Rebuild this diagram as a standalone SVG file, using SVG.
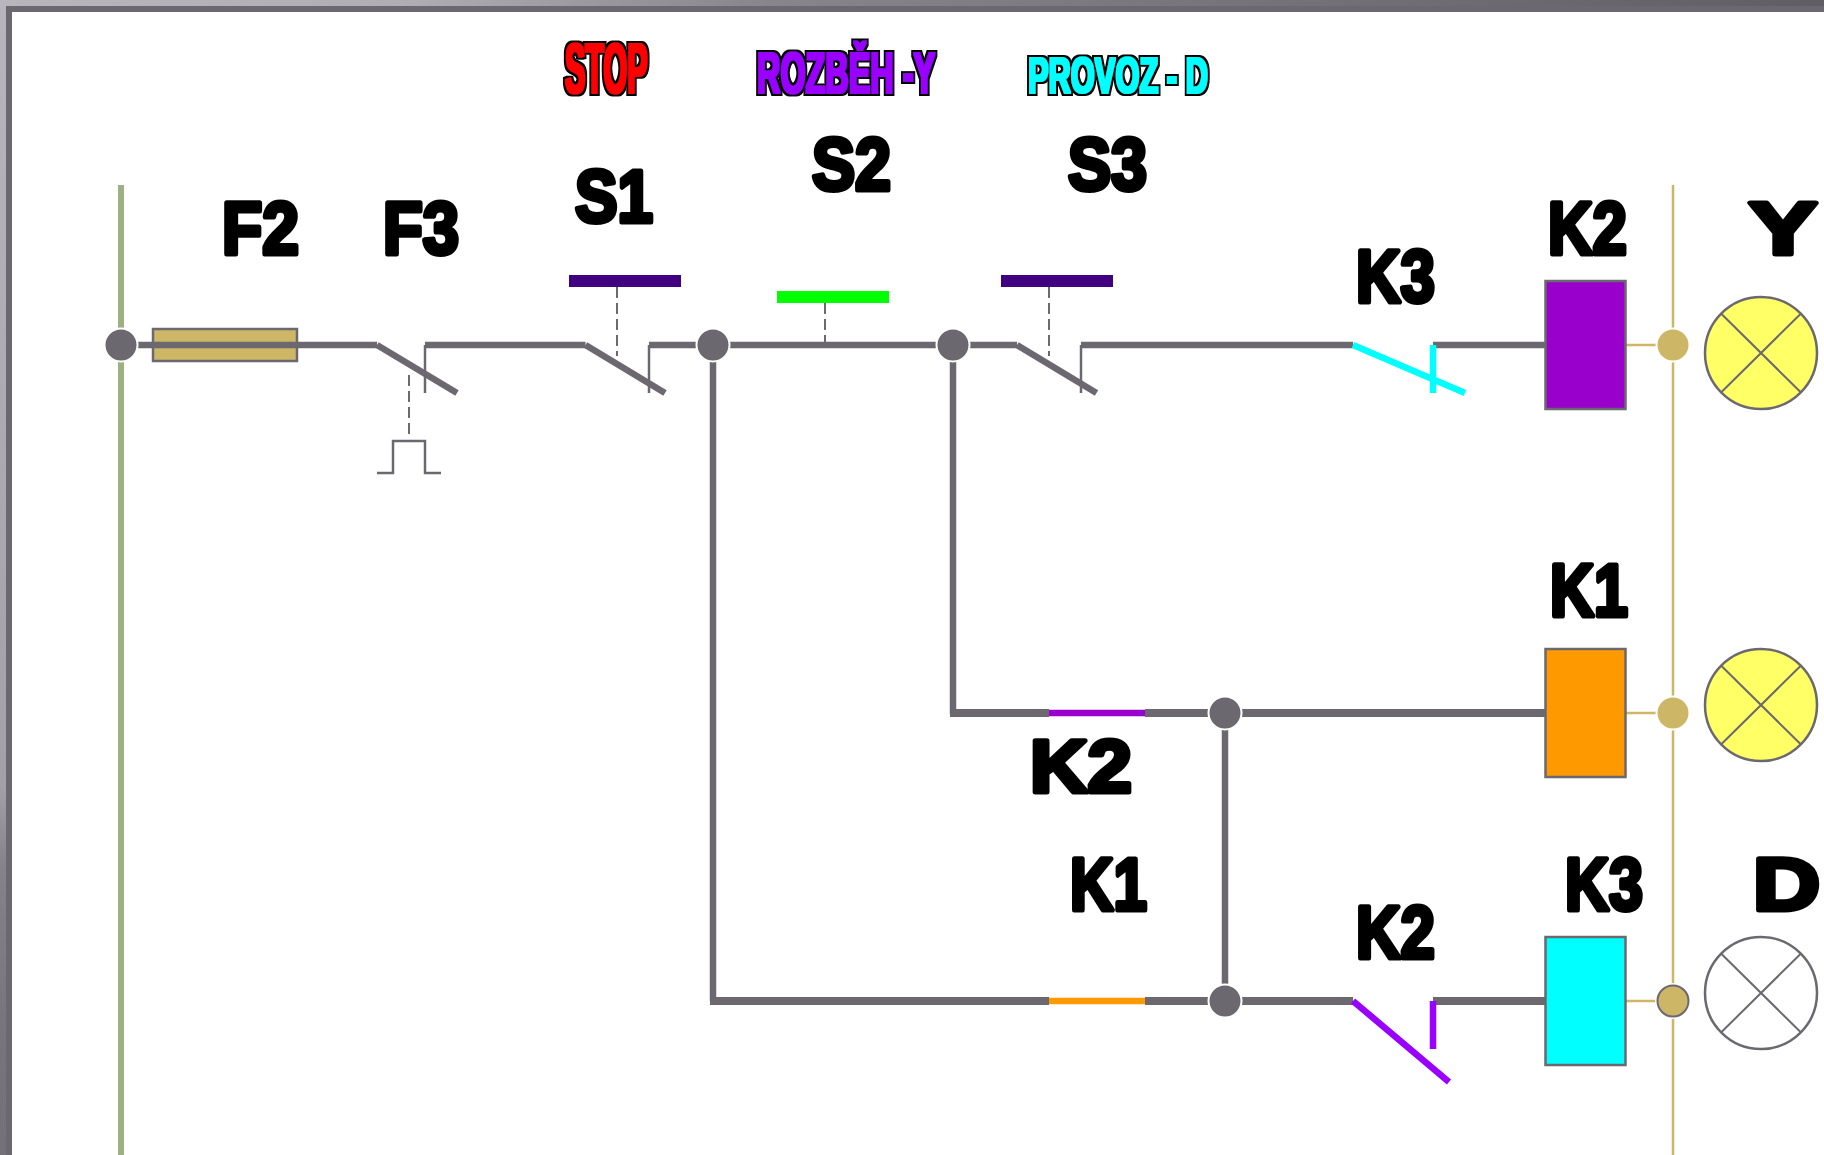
<svg xmlns="http://www.w3.org/2000/svg" width="1824" height="1155" viewBox="0 0 1824 1155">
<defs>
<linearGradient id="frameTop" x1="0" y1="0" x2="1" y2="0"><stop offset="0" stop-color="#b8b5bd"/><stop offset="0.22" stop-color="#b0adb5"/><stop offset="0.42" stop-color="#88868c"/><stop offset="1" stop-color="#605e64"/></linearGradient>
<linearGradient id="frameLeft" x1="0" y1="0" x2="0" y2="1"><stop offset="0" stop-color="#b8b5bd"/><stop offset="0.68" stop-color="#a3a1a8"/><stop offset="0.75" stop-color="#858389"/><stop offset="0.88" stop-color="#78767c"/><stop offset="1" stop-color="#737177"/></linearGradient>
<filter id="fat" x="-5%" y="-20%" width="110%" height="140%">
<feMorphology in="SourceAlpha" operator="dilate" radius="2.6" result="outline"/>
<feMorphology in="SourceGraphic" operator="dilate" radius="0.8" result="body"/>
<feMerge><feMergeNode in="outline"/><feMergeNode in="body"/></feMerge>
</filter>
</defs>
<style>
.wire{stroke:#6b6870;stroke-width:6.5;fill:none}
.wire2{stroke:#6b6870;stroke-width:8;fill:none}
.thin{stroke:#6b6870;stroke-width:2.5;fill:none}
.dash{stroke:#6b6870;stroke-width:2;stroke-dasharray:11 5;fill:none}
.tan{stroke:#cdb766;stroke-width:2.5;fill:none}
.dot{fill:#6b6870;stroke:#fff;stroke-width:2}
.tdot{fill:#cdb766;stroke:#fff;stroke-width:2}
.box{stroke:#6b6870;stroke-width:2.5}
.lamp{stroke:#6b6870;stroke-width:2.5}
.x{stroke:#6b6870;stroke-width:2}
.lbl{font-family:"Liberation Sans",Arial,sans-serif;font-weight:bold;font-size:74px;fill:#000;stroke:#000;stroke-width:5;stroke-linejoin:round}
.ttl{font-family:"Liberation Sans",Arial,sans-serif;font-weight:bold}
</style>
<rect width="1824" height="1155" fill="#fff"/>
<g id="frame">
<rect x="0" y="0" width="1824" height="6" fill="url(#frameTop)"/>
<rect x="0" y="0" width="6" height="1155" fill="url(#frameLeft)"/>
<rect x="6" y="6" width="1818" height="6" fill="#6b6870"/>
<rect x="6" y="6" width="6" height="1149" fill="#6b6870"/>
</g>
<g id="F2-fuse"><rect x="153" y="329" width="144" height="32" fill="#cdb766" class="box"/></g>
<g id="connectors">
<line x1="121" y1="185" x2="121" y2="1155" stroke="#9db082" stroke-width="6"/>
<line x1="1673" y1="185" x2="1673" y2="1155" class="tan"/>
<path class="wire" d="M121 345H377M425 345H585.500M649 345H1017M1081 345H1353M1433 345H1546"/>
<path class="wire" d="M713 345V1001M953 345V714M1225 713V1001"/>
<path class="wire2" d="M950 713H1049M1145 713H1546M710 1001H1049M1145 1001H1353M1433 1001H1546"/>
<path d="M1049 713H1145" fill="none" stroke="#9900cc" stroke-width="6.500"/>
<path d="M1049 1001H1145" fill="none" stroke="#ff9900" stroke-width="6.500"/>
<path class="tan" d="M1626 345H1673M1626 713H1673M1626 1001H1673"/>
</g>
<g id="F3-contact">
<path class="wire" d="M377 345L457 393"/><path class="thin" d="M425 345V393"/>
<path class="dash" d="M409 375V437"/><path class="thin" d="M377 473H393V441H425V473H441"/>
</g>
<g id="S1-contact">
<rect x="569" y="275" width="112" height="12" fill="#400080"/>
<path class="dash" d="M617 287V356"/>
<path class="wire" d="M585.500 345L665 393"/><path class="thin" d="M649 345V393"/>
</g>
<g id="S2-contact">
<rect x="777" y="291" width="112" height="12" fill="#00ff00"/>
<path class="dash" d="M825 303V345"/>
</g>
<g id="S3-contact">
<rect x="1001" y="275" width="112" height="12" fill="#400080"/>
<path class="dash" d="M1049 287V356"/>
<path class="wire" d="M1017 345L1096.500 393"/><path class="thin" d="M1081 345V393"/>
</g>
<g id="K3-contact">
<path d="M1353 345L1465 393M1433 345V393" fill="none" stroke="#00ffff" stroke-width="6.500"/>
</g>
<g id="K2-contact">
<path d="M1353 1001L1449 1082M1433 1001V1049" fill="none" stroke="#9900ff" stroke-width="6.500"/>
</g>
<g id="K2-coil"><rect x="1545.500" y="281" width="80" height="128" fill="#9900cc" class="box"/></g>
<g id="K1-coil"><rect x="1545.500" y="649" width="80" height="128" fill="#ff9900" class="box"/></g>
<g id="K3-coil"><rect x="1545.500" y="937" width="80" height="128" fill="#00ffff" class="box"/></g>
<g id="node-a"><circle cx="121" cy="345" r="16.500" class="dot"/></g>
<g id="node-b"><circle cx="713" cy="345" r="16.500" class="dot"/></g>
<g id="node-c"><circle cx="953" cy="345" r="16.500" class="dot"/></g>
<g id="node-d"><circle cx="1225" cy="713" r="16.500" class="dot"/></g>
<g id="node-e"><circle cx="1225" cy="1001" r="16.500" class="dot"/></g>
<g id="node-f"><circle cx="1673" cy="345" r="16.500" class="tdot"/></g>
<g id="node-g"><circle cx="1673" cy="713" r="16.500" class="tdot"/></g>
<g id="node-h"><circle cx="1673" cy="1001" r="18" fill="#fff"/><circle cx="1673" cy="1001" r="15.500" fill="#cdb766" stroke="#6b6870" stroke-width="2"/></g>
<g id="lamp-Y"><circle cx="1761" cy="353" r="56" fill="#ffff66" class="lamp"/><path class="x" d="M1721.500 314L1800.500 392M1800.500 314L1721.500 392"/></g>
<g id="lamp-K1"><circle cx="1761" cy="705" r="56" fill="#ffff66" class="lamp"/><path class="x" d="M1721.500 666L1800.500 744M1800.500 666L1721.500 744"/></g>
<g id="lamp-D"><circle cx="1761" cy="993" r="56" fill="#fff" class="lamp"/><path class="x" d="M1721.500 954L1800.500 1032M1800.500 954L1721.500 1032"/></g>
<g id="labels" transform="translate(0,-0.5)">
<text class="lbl" x="222" y="254" textLength="77" lengthAdjust="spacingAndGlyphs">F2</text>
<text class="lbl" x="383" y="254" textLength="76" lengthAdjust="spacingAndGlyphs">F3</text>
<text class="lbl" x="575" y="222" textLength="78" lengthAdjust="spacingAndGlyphs">S1</text>
<text class="lbl" x="812" y="190" textLength="79" lengthAdjust="spacingAndGlyphs">S2</text>
<text class="lbl" x="1068" y="190" textLength="79" lengthAdjust="spacingAndGlyphs">S3</text>
<text class="lbl" x="1356" y="302" textLength="79" lengthAdjust="spacingAndGlyphs">K3</text>
<text class="lbl" x="1548" y="254" textLength="79" lengthAdjust="spacingAndGlyphs">K2</text>
<text class="lbl" x="1749" y="254" textLength="68" lengthAdjust="spacingAndGlyphs">Y</text>
<text class="lbl" x="1550" y="616" textLength="78" lengthAdjust="spacingAndGlyphs">K1</text>
<text class="lbl" x="1030" y="792" textLength="102" lengthAdjust="spacingAndGlyphs">K2</text>
<text class="lbl" x="1070" y="910" textLength="77" lengthAdjust="spacingAndGlyphs">K1</text>
<text class="lbl" x="1356" y="958" textLength="79" lengthAdjust="spacingAndGlyphs">K2</text>
<text class="lbl" x="1565" y="910" textLength="78" lengthAdjust="spacingAndGlyphs">K3</text>
<text class="lbl" x="1753" y="910" textLength="67" lengthAdjust="spacingAndGlyphs">D</text>
</g>
<g id="titles" filter="url(#fat)">
<text class="ttl" transform="translate(565,93.4) scale(0.430,1)" font-size="71" fill="#ff0000">STOP</text>
<text class="ttl" transform="translate(757,93.4) scale(0.568,1)" font-size="57" fill="#9900ff">ROZBĚH -Y</text>
<text class="ttl" transform="translate(1028,93.4) scale(0.617,1)" font-size="50" fill="#00ffff">PROVOZ - D</text>
</g>
</svg>
